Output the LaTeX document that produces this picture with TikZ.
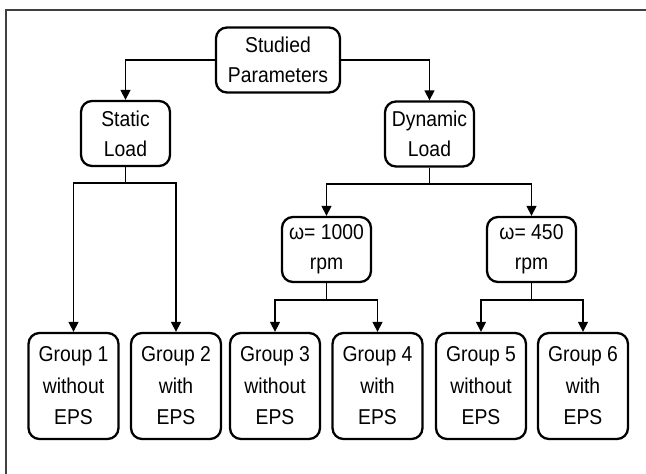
\documentclass[tikz,border=0pt]{standalone}
\usepackage{fontspec}
\setmainfont[FakeStretch=0.9]{Liberation Sans}
\usepackage{tikz}
\usetikzlibrary{arrows.meta}

\tikzset{
	box/.style={shape=rectangle,draw=black,line width=2.3pt,rounded corners=11pt,fill=white,
		align=center,inner sep=0pt,font=\fontsize{21.5}{30}\selectfont},
	smallbox/.style={box,minimum width=89pt,minimum height=65pt},
	groupbox/.style={box,minimum width=90pt,minimum height=106pt,font=\fontsize{21.5}{31.5}\selectfont},
	arr/.style={line width=1.4pt,-{Triangle[width=10pt,length=10pt]}},
	ln/.style={line width=1.4pt}
}

\begin{document}
\begin{tikzpicture}[x=1pt,y=-1pt]
	\useasboundingbox (0,0) rectangle (646,474);
	\draw[line width=1.5pt,draw=black!75] (6,474) -- (6,10) -- (646,10);

	\node[box,minimum width=124pt,minimum height=65pt] (studied) at (278, 60) {Studied\\Parameters};
	\node[smallbox] (static)  at (125.5, 133.5) {Static\\Load};
	\node[smallbox] (dynamic) at (429.5, 134)   {Dynamic\\Load};
	\node[smallbox] (w1000)   at (326.5, 249.5) {ω= 1000\\rpm};
	\node[smallbox] (w450)    at (531.5, 249.5) {ω= 450\\rpm};

	\node[groupbox] (g1) at (73.5, 386)  {Group 1\\without\\EPS};
	\node[groupbox] (g2) at (176, 386)   {Group 2\\with\\EPS};
	\node[groupbox] (g3) at (275, 386)   {Group 3\\without\\EPS};
	\node[groupbox] (g4) at (377.5, 386) {Group 4\\with\\EPS};
	\node[groupbox] (g5) at (481, 386)   {Group 5\\without\\EPS};
	\node[groupbox] (g6) at (583, 386)   {Group 6\\with\\EPS};

	\coordinate (sj) at (125.5, 183);
	\coordinate (dj) at (429.5, 184);
	\coordinate (aj) at (326.5, 300);
	\coordinate (bj) at (531.5, 300);

	\draw[arr] (studied.west) -| (static.north);
	\draw[arr] (studied.east) -| (dynamic.north);

	\draw[ln] (static.south) -- (sj);
	\draw[arr] (sj) -| (g1.north);
	\draw[arr] (sj) -| (g2.north);

	\draw[ln] (dynamic.south) -- (dj);
	\draw[arr] (dj) -| (w1000.north);
	\draw[arr] (dj) -| (w450.north);

	\draw[ln] (w1000.south) -- (aj);
	\draw[arr] (aj) -| (g3.north);
	\draw[arr] (aj) -| (g4.north);

	\draw[ln] (w450.south) -- (bj);
	\draw[arr] (bj) -| (g5.north);
	\draw[arr] (bj) -| (g6.north);
\end{tikzpicture}
\end{document}
